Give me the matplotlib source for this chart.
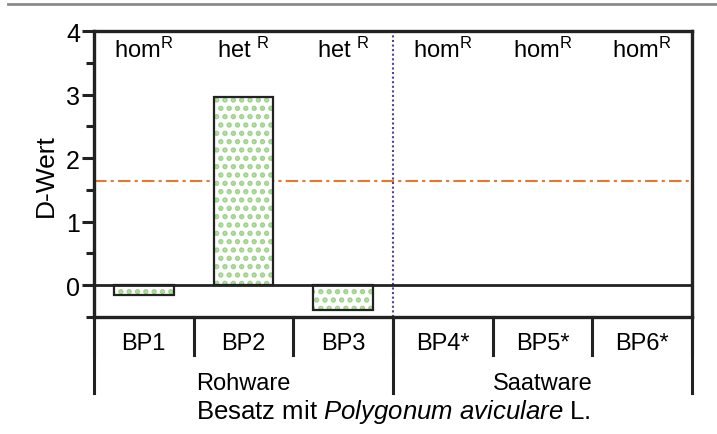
import matplotlib
matplotlib.use("Agg")
import matplotlib.pyplot as plt
import matplotlib.transforms as mtransforms
from matplotlib.lines import Line2D
import numpy as np

plt.rcParams['font.family'] = ['Liberation Sans', 'DejaVu Sans']
plt.rcParams['mathtext.fontset'] = 'custom'
plt.rcParams['mathtext.rm'] = 'Liberation Sans'
plt.rcParams['mathtext.it'] = 'Liberation Sans:italic'
plt.rcParams['hatch.linewidth'] = 2.6

samples = ["BP1", "BP2", "BP3", "BP4*", "BP5*", "BP6*"]
d_values = [-0.15, 2.96, -0.39, np.nan, np.nan, np.nan]
genotype = [r"hom$^{\mathrm{R}}$", r"het $^{\mathrm{R}}$", r"het $^{\mathrm{R}}$",
            r"hom$^{\mathrm{R}}$", r"hom$^{\mathrm{R}}$", r"hom$^{\mathrm{R}}$"]
groups = ["Rohware", "Saatware"]
group_sizes = [3, 3]
threshold = 1.645

ink = "#222222"
dot_green = "#9dd38a"

fig = plt.figure(figsize=(7.17, 4.35), dpi=100)
ax = fig.add_axes([0.131, 0.269, 0.834, 0.657])

x = np.arange(len(samples))
# dotted fill first, then the outline on top
ax.bar(x, d_values, width=0.6, facecolor="white", edgecolor=dot_green,
       hatch="..", linewidth=0, zorder=2)
ax.bar(x, d_values, width=0.6, facecolor="none", edgecolor=ink,
       linewidth=1.6, zorder=3)

ax.axhline(0, color=ink, lw=2, zorder=4)
ax.axhline(threshold, color="#e8762c", lw=1.5, ls=(0, (6, 2, 1.5, 2)), zorder=1)

# split between the two groups
split = group_sizes[0] - 0.5
ax.axvline(split, color="#5b3fa0", lw=1.5, ls=(0, (1, 1.2)), zorder=1)

for xi, g in zip(x, genotype):
    ax.text(xi, 3.72, g, ha="center", va="center", fontsize=17)

ax.set_xlim(-0.5, len(samples) - 0.5)
ax.set_ylim(-0.5, 4)
ax.set_yticks([0, 1, 2, 3, 4])
ax.set_yticks([-0.5, 0.5, 1.5, 2.5, 3.5], minor=True)
ax.tick_params(axis="y", which="major", length=9, width=2.2, color=ink,
               labelsize=18, pad=1)
ax.tick_params(axis="y", which="minor", length=6, width=2.2, color=ink)
ax.set_xticks([])
for s in ax.spines.values():
    s.set_color(ink)
    s.set_linewidth(2.4)
ax.set_ylabel("D-Wert", fontsize=19, labelpad=6)

# category table below the axis
trans = mtransforms.blended_transform_factory(ax.transData, ax.transAxes)
for b in np.arange(len(samples) + 1) - 0.5:
    ax.plot([b, b], [0, -0.133], color=ink, lw=2.2, transform=trans, clip_on=False)
for xi, s in zip(x, samples):
    ax.text(xi, -0.091, s, ha="center", va="center", fontsize=17, transform=trans)

start = -0.5
for name, n in zip(groups, group_sizes):
    ax.plot([start, start], [0, -0.266], color=ink, lw=2.2, transform=trans, clip_on=False)
    ax.text(start + n / 2, -0.231, name, ha="center", va="center", fontsize=17,
            transform=trans)
    start += n
ax.plot([start, start], [0, -0.266], color=ink, lw=2.2, transform=trans, clip_on=False)

ax.text(0.5, -0.33, "Besatz mit $\\it{Polygonum\\ aviculare}$ L.", ha="center",
        va="center", fontsize=18.5, transform=ax.transAxes)

fig.add_artist(Line2D([0.011, 1.0], [0.988, 0.988], color="#8a8a8a", lw=2))

fig.savefig("out.png", dpi=100)
